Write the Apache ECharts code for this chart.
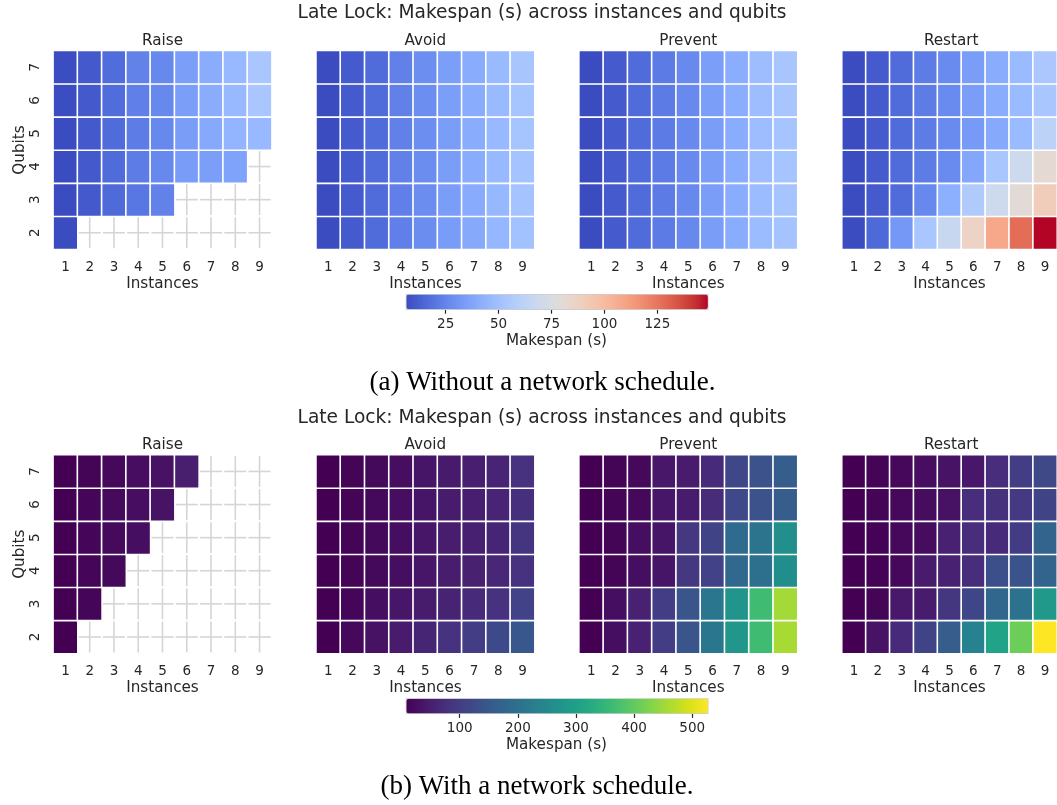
<!DOCTYPE html>
<html>
<head>
<meta charset="utf-8">
<script src="https://cdn.jsdelivr.net/npm/echarts@6/dist/echarts.min.js"></script>
<style>
  html, body { margin: 0; padding: 0; background: #ffffff; }
  #chart { width: 1057px; height: 805px; }
</style>
</head>
<body>
<div id="chart"></div>
<script>
// Axis categories
const instances = ['1', '2', '3', '4', '5', '6', '7', '8', '9'];
const qubits = ['2', '3', '4', '5', '6', '7'];
const panelNames = ['Raise', 'Avoid', 'Prevent', 'Restart'];

// Makespan (s); rows are qubits 2..7, columns are instances 1..9, null = no run
const raiseNoSchedule = [
  [6.1, null, null, null, null, null, null, null, null],
  [6.2, 10.5, 16, 20, 24, null, null, null, null],
  [6.2, 10.5, 16.5, 22, 26, 33.5, 34.6, 36, null],
  [6.2, 10.5, 16.5, 22, 26, 34, 39, 44, 46],
  [6.3, 10.5, 16.8, 23, 26, 34.6, 40, 46, 53],
  [6.3, 10.5, 16.8, 24, 26, 34.6, 40, 46, 53]
];
const avoidNoSchedule = [
  [6.2, 11, 16.5, 23, 28, 33.5, 39, 45, 50],
  [6.2, 11, 16.5, 23, 28, 34, 39.5, 45.5, 51],
  [6.2, 11, 16.5, 23.5, 28, 34, 40, 46, 51.5],
  [6.2, 11, 16.5, 23.5, 28.5, 34, 40, 46, 52],
  [6.2, 11, 16.5, 23.5, 28.5, 34.5, 40, 46.5, 52],
  [6.2, 11, 16.5, 23.5, 28.5, 34.5, 40, 46.5, 52.5]
];
const preventNoSchedule = [
  [6.2, 11, 16.5, 21.5, 26, 34, 40, 47.5, 51.5],
  [6.2, 11, 16.5, 21.5, 26, 34, 40, 47.5, 52],
  [6.2, 11, 16.5, 21.5, 26.5, 34, 40, 48, 52],
  [6.2, 11, 16.5, 21.5, 26.5, 34, 40, 48, 52],
  [6.2, 11, 16.5, 21.5, 26.5, 34.5, 40.5, 48, 52.5],
  [6.2, 11, 16.5, 21.5, 26.5, 34.5, 40.5, 48, 52.5]
];
const restartNoSchedule = [
  [6.2, 15.4, 32, 53, 66.7, 86, 107.6, 127.3, 148.6],
  [6.2, 11, 16.5, 26, 41.7, 56, 69, 80, 90],
  [6.2, 11, 16.5, 22, 27, 38, 53, 69, 81],
  [6.2, 11, 16.5, 22, 27, 33, 39, 47, 61.7],
  [6.2, 11, 16.5, 22, 27, 34, 40, 47, 53],
  [6.2, 11, 16.5, 22, 27, 34, 40, 47, 54]
];

const raiseSchedule = [
  [7, null, null, null, null, null, null, null, null],
  [7, 13, null, null, null, null, null, null, null],
  [7, 13, 18, null, null, null, null, null, null],
  [7, 13, 19, 25, null, null, null, null, null],
  [7, 13, 19, 24, 32, null, null, null, null],
  [7, 12, 17, 24, 30, 48, null, null, null]
];
const avoidSchedule = [
  [7, 17, 30, 44, 60, 80, 100, 121, 147],
  [7, 14, 26, 37, 46, 56, 68, 80, 108],
  [7, 12, 18, 26, 37, 47, 53, 62, 80],
  [7, 12, 18, 25, 36, 47, 52, 60, 86],
  [7, 12, 18, 24, 35, 45, 50, 58, 76],
  [7, 12, 18, 24, 35, 43, 51, 59, 80]
];
const preventSchedule = [
  [7, 25, 54, 100, 142, 210, 280, 365, 456],
  [7, 25, 54, 100, 142, 210, 272, 365, 453],
  [7, 12, 25, 35, 90, 108, 182, 198, 260],
  [7, 12, 25, 35, 90, 110, 186, 203, 262],
  [7, 12, 17, 37, 45, 70, 118, 137, 158],
  [7, 12, 17, 38, 44, 68, 117, 137, 160]
];
const restartSchedule = [
  [7, 32, 68, 110, 158, 235, 305, 409, 526],
  [7, 12, 40, 46, 88, 116, 178, 200, 283],
  [7, 10, 17, 44, 54, 72, 132, 140, 172],
  [7, 10, 17, 22, 54, 72, 68, 95, 172],
  [7, 12, 17, 22, 30, 72, 78, 92, 110],
  [7, 12, 17, 24, 32, 38, 72, 100, 120]
];

// Colour bar tick labels
const cbTicksNoSchedule = [25, 50, 75, 100, 125];
const cbTicksSchedule = [100, 200, 300, 400, 500];

// Colour maps
const coolwarm = ['#3b4cc0','#445acc','#4d68d7','#5775e1','#6282ea','#6c8ef1','#779af7','#82a5fb',
  '#8db0fe','#98b9ff','#a3c2ff','#aec9fd','#b8d0f9','#c2d5f4','#ccd9ee','#d5dbe6','#dddddd',
  '#e5d8d1','#ecd3c5','#f1ccb8','#f5c4ac','#f7bba0','#f7b194','#f7a688','#f49a7b','#f18d6f',
  '#ec7f63','#e57059','#de604d','#d55042','#cb3e38','#c0282f','#b40426'];
const viridis = ['#440154','#48186a','#472d7b','#424086','#3b528b','#33638d','#2c728e','#26828e',
  '#21918c','#1fa088','#28ae80','#3fbc73','#5ec962','#84d44b','#addc30','#d8e219','#fde725'];

const TITLE = 'Late Lock: Makespan (s) across instances and qubits';
const figures = [
  { panels: [raiseNoSchedule, avoidNoSchedule, preventNoSchedule, restartNoSchedule],
    colors: coolwarm, ticks: cbTicksNoSchedule,
    caption: '(a) Without a network schedule.' },
  { panels: [raiseSchedule, avoidSchedule, preventSchedule, restartSchedule],
    colors: viridis, ticks: cbTicksSchedule,
    caption: '(b) With a network schedule.' }
];

// Layout (px)
const FIG_OFFSET = 404.2;
const PANEL_TOP = 50.7, PANEL_W = 218.4, PANEL_H = 198.6;
const PANEL_LEFTS = [53.3, 316.2, 579.1, 842.0];
const CB_LEFT = 405.7, CB_TOP = 294, CB_W = 301.6, CB_H = 14.7;
const CAPTION_POS = [[542.5, 382.5], [537, 787]];
const INK = '#262626';
const SANS = '"DejaVu Sans"';

const grids = [], xAxes = [], yAxes = [], heatSeries = [], gridSeries = [], visualMaps = [], graphics = [];

figures.forEach((fig, f) => {
  const dy = f * FIG_OFFSET;
  const allVals = fig.panels.flat(2).filter(v => v !== null);
  const vmin = Math.min(...allVals), vmax = Math.max(...allVals);
  const heatIdx = [];

  fig.panels.forEach((rows, p) => {
    const g = grids.length;
    grids.push({ left: PANEL_LEFTS[p], top: PANEL_TOP + dy, width: PANEL_W, height: PANEL_H });
    xAxes.push({
      type: 'category', gridIndex: g, data: instances,
      axisLine: { show: false }, axisTick: { show: false }, splitLine: { show: false },
      axisLabel: { interval: 0, margin: 11, fontSize: 13.5, color: INK, fontFamily: SANS },
      name: 'Instances', nameLocation: 'middle', nameGap: 27,
      nameTextStyle: { fontSize: 15.2, color: INK, fontFamily: SANS }
    });
    yAxes.push({
      type: 'category', gridIndex: g, data: qubits,
      axisLine: { show: false }, axisTick: { show: false }, splitLine: { show: false },
      axisLabel: { show: p === 0, interval: 0, rotate: 90, margin: 10.5, fontSize: 13.5, color: INK, fontFamily: SANS },
      name: p === 0 ? 'Qubits' : '', nameLocation: 'middle', nameGap: 24,
      nameTextStyle: { fontSize: 15.2, color: INK, fontFamily: SANS }
    });

    const cells = [], missing = [];
    rows.forEach((row, r) => row.forEach((v, c) => {
      if (v === null) missing.push([c, r]); else cells.push([c, r, v]);
    }));
    heatIdx.push(heatSeries.length);
    heatSeries.push({
      type: 'heatmap', xAxisIndex: g, yAxisIndex: g, data: cells,
      itemStyle: { borderColor: '#ffffff', borderWidth: 1.6 },
      emphasis: { disabled: true }, progressive: 0
    });
    if (missing.length) {
      // light grid lines that show through where a configuration has no run
      gridSeries.push({
        type: 'custom', xAxisIndex: g, yAxisIndex: g, data: missing, silent: true,
        renderItem: (params, api) => {
          const c = api.coord([api.value(0), api.value(1)]);
          const s = api.size([1, 1]);
          const gap = 1.1;
          const hw = s[0] / 2 - gap, hh = s[1] / 2 - gap;
          const st = { stroke: '#d5d5d5', lineWidth: 1.6 };
          return { type: 'group', children: [
            { type: 'line', shape: { x1: c[0] - hw, y1: c[1], x2: c[0] + hw, y2: c[1] }, style: st },
            { type: 'line', shape: { x1: c[0], y1: c[1] - hh, x2: c[0], y2: c[1] + hh }, style: st }
          ] };
        }
      });
    }

    graphics.push({
      type: 'text', x: PANEL_LEFTS[p] + PANEL_W / 2, y: 41 + dy,
      style: { text: panelNames[p], font: '15.2px ' + SANS, fill: INK,
               align: 'center', verticalAlign: 'middle', textAlign: 'center', textVerticalAlign: 'middle' }
    });
  });

  // colour bar
  visualMaps.push({
    type: 'continuous', min: vmin, max: vmax,
    seriesIndex: heatIdx,
    orient: 'horizontal', left: CB_LEFT, top: CB_TOP + dy,
    itemWidth: CB_H, itemHeight: CB_W, calculable: false, hoverLink: false,
    padding: 0, borderColor: '#cccccc', borderWidth: 1.2,
    inRange: { color: fig.colors }
  });
  const cg = grids.length;
  grids.push({ left: CB_LEFT, top: CB_TOP + dy, width: CB_W, height: CB_H });
  xAxes.push({
    type: 'value', gridIndex: cg, min: vmin, max: vmax, position: 'bottom',
    axisLine: { show: false }, splitLine: { show: false },
    axisTick: { show: true, length: 5, lineStyle: { color: INK, width: 1.2 }, customValues: fig.ticks },
    axisLabel: { margin: 9, fontSize: 13.5, color: INK, fontFamily: SANS, customValues: fig.ticks },
    name: 'Makespan (s)', nameLocation: 'middle', nameGap: 25,
    nameTextStyle: { fontSize: 15.2, color: INK, fontFamily: SANS }
  });
  yAxes.push({ type: 'value', gridIndex: cg, show: false, min: 0, max: 1 });

  graphics.push({
    type: 'text', x: 542, y: 13.5 + dy,
    style: { text: TITLE, font: '18.6px ' + SANS, fill: INK,
             align: 'center', verticalAlign: 'middle', textAlign: 'center', textVerticalAlign: 'middle' }
  });
  graphics.push({
    type: 'text', x: CAPTION_POS[f][0], y: CAPTION_POS[f][1],
    style: { text: fig.caption, font: '27px "Liberation Serif"', fill: '#000000',
             align: 'center', verticalAlign: 'middle', textAlign: 'center', textVerticalAlign: 'middle' }
  });
});

const chart = echarts.init(document.getElementById('chart'), null, { renderer: 'canvas' });
chart.setOption({
  animation: false,
  textStyle: { fontFamily: SANS, color: INK },
  grid: grids,
  xAxis: xAxes,
  yAxis: yAxes,
  visualMap: visualMaps,
  series: heatSeries.concat(gridSeries),
  graphic: graphics
});
</script>
</body>
</html>
